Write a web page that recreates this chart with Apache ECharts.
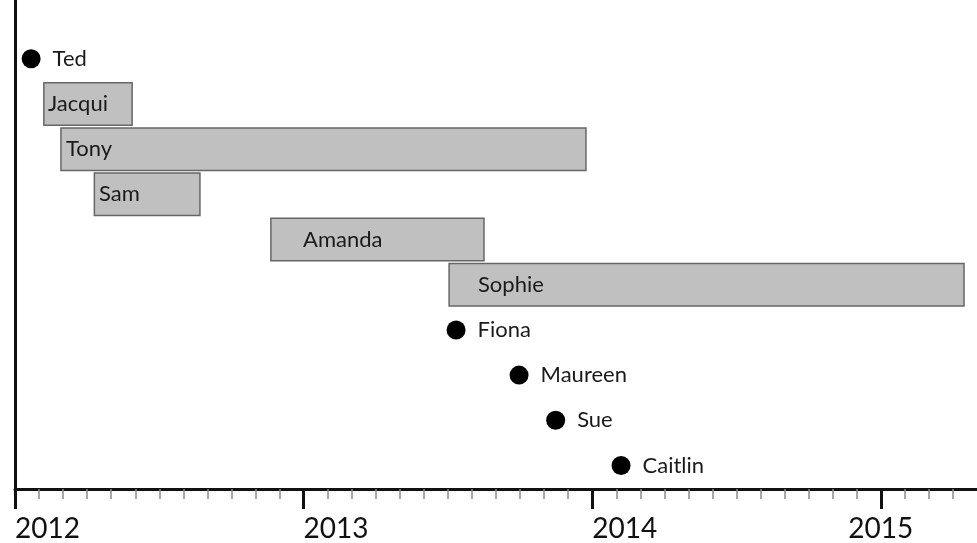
<!DOCTYPE html>
<html>
<head>
<meta charset="utf-8">
<script src="https://cdn.jsdelivr.net/npm/echarts@6/dist/echarts.min.js"></script>
<style>
  html, body { margin: 0; padding: 0; background: #fff; }
  #main { width: 977px; height: 543px; }
</style>
</head>
<body>
<div id="main"></div>
<script>
  // rows from top to bottom
  const rows = ['Ted', 'Jacqui', 'Tony', 'Sam', 'Amanda', 'Sophie', 'Fiona', 'Maureen', 'Sue', 'Caitlin'];

  // periods (months since Jan 2012)
  const barNames = ['Jacqui', 'Tony', 'Sam', 'Amanda', 'Sophie'];
  const barStart = [1.2, 1.91, 3.3, 10.64, 18.05];
  const barEnd = [4.87, 23.74, 7.69, 19.5, 39.46];
  const barLabelAt = [1.37, 2.12, 3.49, 11.98, 19.25];

  // single events (months since Jan 2012)
  const dotNames = ['Ted', 'Fiona', 'Maureen', 'Sue', 'Caitlin'];
  const dotDate = [0.67, 18.34, 20.96, 22.48, 25.2];

  // axis
  const yearTicks = [0, 12, 24, 36];
  const yearLabels = ['2012', '2013', '2014', '2015'];
  const monthMax = 40;

  const FONT = 'Lato';

  const monthTicks = [];
  for (let m = 1; m < monthMax; m++) {
    if (m % 12 !== 0) monthTicks.push(m);
  }

  const barData = barNames.map((n, i) => [barStart[i], barEnd[i], rows.indexOf(n), barLabelAt[i], n]);
  const dotData = dotNames.map((n, i) => [dotDate[i], rows.indexOf(n), n]);

  const yearFmt = v => yearLabels[yearTicks.indexOf(Math.round(v))] || '';

  const chart = echarts.init(document.getElementById('main'));
  const baseX = {
    type: 'value', min: 0, max: monthMax, position: 'bottom',
    splitLine: { show: false }
  };

  chart.setOption({
    backgroundColor: '#fff',
    animation: false,
    grid: { left: 15, right: 0, top: 0, bottom: 50.5 },
    xAxis: [
      Object.assign({}, baseX, {
        axisLine: { show: true, onZero: false, lineStyle: { color: '#111', width: 3 } },
        axisTick: { show: true, customValues: monthTicks, length: 10, lineStyle: { color: '#8a8a8a', width: 1.5 } },
        axisLabel: { show: false }
      }),
      Object.assign({}, baseX, {
        axisLine: { show: false, onZero: false },
        axisTick: { show: true, customValues: yearTicks, length: 20, lineStyle: { color: '#111', width: 3 } },
        axisLabel: {
          show: true, customValues: yearTicks.slice(0, 3), align: 'left', margin: 26,
          fontFamily: FONT, fontSize: 28, color: '#111', formatter: yearFmt
        }
      }),
      Object.assign({}, baseX, {
        axisLine: { show: false, onZero: false },
        axisTick: { show: false },
        axisLabel: {
          show: true, customValues: yearTicks.slice(3), align: 'center', margin: 26,
          fontFamily: FONT, fontSize: 28, color: '#111', formatter: yearFmt
        }
      })
    ],
    yAxis: {
      type: 'value', inverse: true, min: -1.3, max: 9.52,
      axisLine: { show: true, onZero: false, lineStyle: { color: '#111', width: 3 } },
      axisTick: { show: false },
      axisLabel: { show: false },
      splitLine: { show: false }
    },
    series: [
      {
        type: 'custom',
        xAxisIndex: 0,
        data: barData,
        encode: { x: [0, 1], y: 2 },
        renderItem: function (params, api) {
          const row = api.value(2);
          const p0 = api.coord([api.value(0), row]);
          const p1 = api.coord([api.value(1), row]);
          const pl = api.coord([api.value(3), row]);
          const h = api.size([0, 1])[1] * 0.94;
          return {
            type: 'group',
            children: [
              {
                type: 'rect',
                shape: { x: p0[0], y: p0[1] - h / 2, width: p1[0] - p0[0], height: h },
                style: { fill: '#c0c0c0', stroke: '#666', lineWidth: 1.5 }
              },
              {
                type: 'text',
                style: {
                  x: pl[0], y: pl[1], text: barData[params.dataIndex][4],
                  fill: '#1a1a1a', font: '22px ' + FONT, verticalAlign: 'middle', align: 'left'
                }
              }
            ]
          };
        }
      },
      {
        type: 'scatter',
        xAxisIndex: 0,
        data: dotData,
        symbol: 'circle',
        symbolSize: 19,
        itemStyle: { color: '#000', opacity: 1 },
        label: {
          show: true, position: 'right', distance: 12,
          formatter: p => p.data[2],
          fontFamily: FONT, fontSize: 22, color: '#1a1a1a'
        }
      }
    ]
  });
</script>
</body>
</html>
